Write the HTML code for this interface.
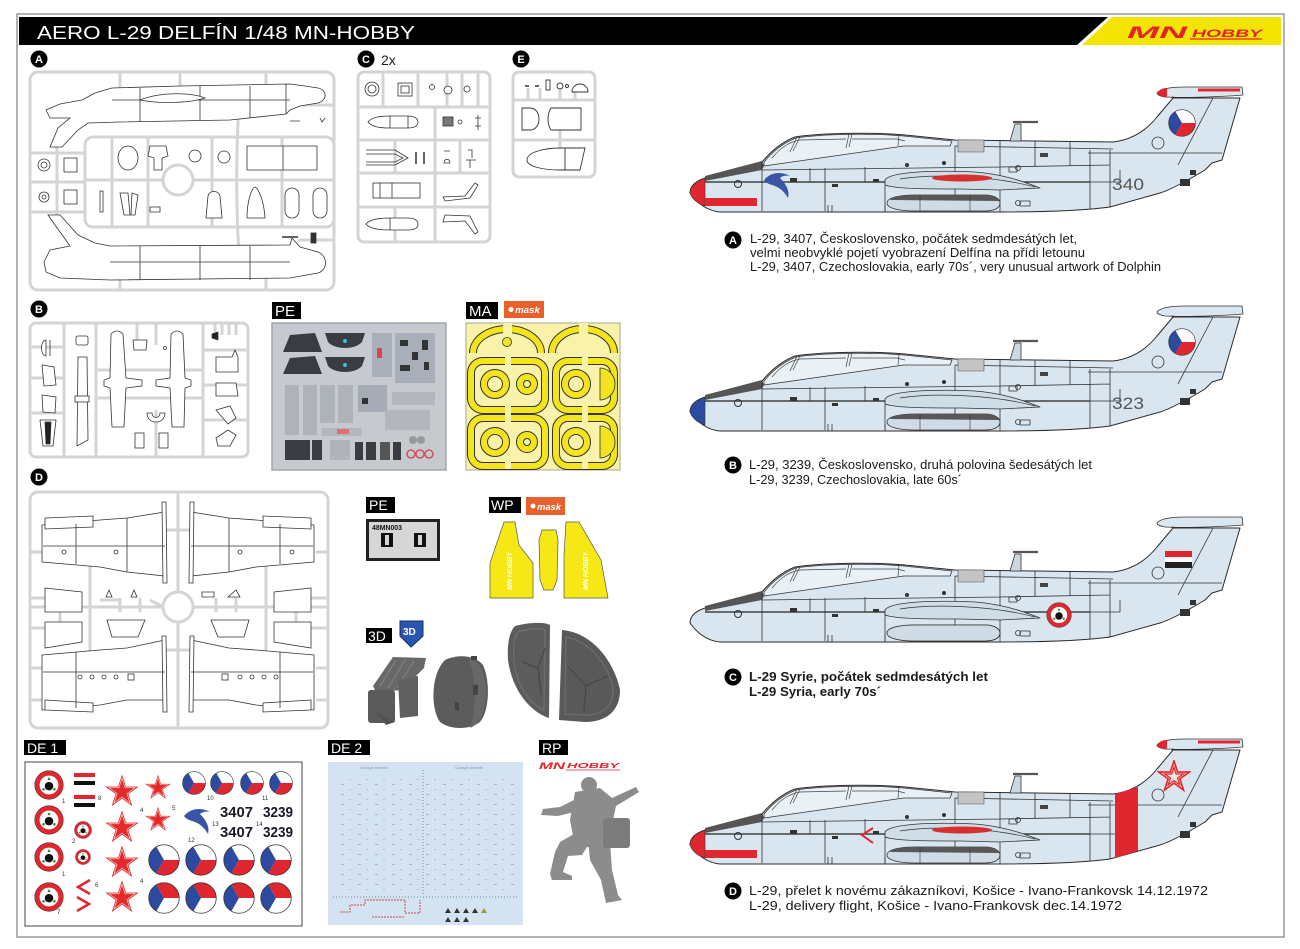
<!DOCTYPE html>
<html><head><meta charset="utf-8"><style>
html,body{margin:0;padding:0;background:#fff;}
svg{display:block;}
text{font-family:"Liberation Sans",Arial,sans-serif;}
</style></head><body>
<svg width="1300" height="949" viewBox="0 0 1300 949" xmlns="http://www.w3.org/2000/svg" xmlns:xlink="http://www.w3.org/1999/xlink">
<defs>
 <symbol id="cz" viewBox="-1.05 -1.05 2.1 2.1">
  <path d="M0,0 L-0.5,-0.866 A1,1 0 0,1 1,0 Z" fill="#fff"/>
  <path d="M0,0 L1,0 A1,1 0 0,1 -0.5,0.866 Z" fill="#e0262e"/>
  <path d="M0,0 L-0.5,0.866 A1,1 0 0,1 -0.5,-0.866 Z" fill="#2c4aa0"/>
  <circle r="1" fill="none" stroke="#333" stroke-width="0.05"/>
 </symbol>
 <symbol id="cz2" viewBox="-1.05 -1.05 2.1 2.1">
  <path d="M0,0 L-0.5,-0.866 A1,1 0 0,1 1,0 Z" fill="#e0262e"/>
  <path d="M0,0 L1,0 A1,1 0 0,1 -0.5,0.866 Z" fill="#fff"/>
  <path d="M0,0 L-0.5,0.866 A1,1 0 0,1 -0.5,-0.866 Z" fill="#2c4aa0"/>
  <circle r="1" fill="none" stroke="#333" stroke-width="0.05"/>
 </symbol>
 <symbol id="sy" viewBox="-1.05 -1.05 2.1 2.1">
  <circle r="1" fill="#e0262e" stroke="#444" stroke-width="0.04"/>
  <circle r="0.66" fill="#fff"/>
  <circle cy="0.08" r="0.3" fill="#111"/>
  <circle cy="-0.42" r="0.09" fill="#2a8a3a"/>
  <circle cx="-0.38" cy="0.3" r="0.09" fill="#2a8a3a"/>
  <circle cx="0.38" cy="0.3" r="0.09" fill="#2a8a3a"/>
 </symbol>
 <symbol id="st" viewBox="-1.05 -1.05 2.1 2.1">
  <polygon points="0,-1 0.2234,-0.3074 0.9511,-0.309 0.3614,0.1174 0.5878,0.809 0,0.38 -0.5878,0.809 -0.3614,0.1174 -0.9511,-0.309 -0.2234,-0.3074" fill="#f6d0d0" stroke="#e02828" stroke-width="0.05"/>
  <polygon points="0,-0.78 0.1743,-0.2398 0.7419,-0.241 0.2819,0.0916 0.4585,0.631 0,0.2964 -0.4585,0.631 -0.2819,0.0916 -0.7419,-0.241 -0.1743,-0.2398" fill="#e42a2a"/>
 </symbol>
 <symbol id="st2" viewBox="-1.05 -1.05 2.1 2.1">
  <polygon points="0,-1 0.2234,-0.3074 0.9511,-0.309 0.3614,0.1174 0.5878,0.809 0,0.38 -0.5878,0.809 -0.3614,0.1174 -0.9511,-0.309 -0.2234,-0.3074" fill="#f4e4e8" stroke="#e02828" stroke-width="0.1"/>
  <polygon points="0,-0.6 0.134,-0.184 0.571,-0.185 0.217,0.07 0.353,0.485 0,0.228 -0.353,0.485 -0.217,0.07 -0.571,-0.185 -0.134,-0.184" fill="none" stroke="#e02828" stroke-width="0.08"/>
 </symbol>
 <pattern id="sp" width="17" height="10" patternUnits="userSpaceOnUse">
  <rect x="1" y="4" width="3" height="1" fill="#98a6b6"/>
  <rect x="9" y="9" width="2" height="1" fill="#a8b4c2"/>
 </pattern>
 <g id="ac" stroke-linejoin="round">
  <path d="M1157,93 C1160,89 1170,87 1185,87 L1242,87 L1243,95 C1220,97 1180,98 1165,97 C1160,96 1157,95 1157,93 Z" fill="#dbe7f0" stroke="#333" stroke-width="0.8"/>
  <path d="M1172,97 L1176,100" stroke="#333" stroke-width="2"/>
  <path d="M690,193 C690,186 696,181 705,178 L762,162 C772,150 782,142 795,137 C820,133 870,132 905,135 L955,140 L1113,142 C1130,140 1145,132 1157,117 L1173,98 L1240,98 L1222,160 L1212,163 L1205,170 C1185,182 1170,190 1160,193 L1110,207 C1080,211 1040,212 1000,212 L720,212 C708,211 698,204 690,193 Z" fill="#d9e6ef" stroke="#2a2a2a" stroke-width="1"/>
  <path d="M764,162 C773,151 783,143 796,138 C821,134 870,133 904,136 L952,141 L950,146 L904,146 L764,166 Z" fill="#eaf1f6" stroke="#333" stroke-width="0.8"/>
  <path d="M790,152 L797,137 M793,151 L800,137 M846,148 L849,134 M849,147 L852,134 M898,146 L899,135 M772,158 C782,146 790,142 800,140 L846,139 M852,139 L897,139 L905,141" fill="none" stroke="#444" stroke-width="0.7"/>
  <path d="M705,176 L762,161 L764,166 L762,170 L705,181 Z" fill="#555"/>
  <path d="M705,182 L1090,182" stroke="#222" stroke-width="1.3"/>
  <path d="M762,170 L1000,167 L1110,165 M955,146 L1113,149 M1088,153 L1222,153 M762,162 L762,211 M825,168 L825,211 M865,167 L865,182 M885,182 L885,211 M955,146 L955,211 M1000,141 L1000,212 M1090,150 L1090,209 M1110,150 L1110,207 M1035,141 L1035,167 M1070,142 L1070,166 M1213,98 L1178,165 M810,168 L810,182 M1090,182 L1120,182 L1120,170" fill="none" stroke="#333" stroke-width="0.8"/>
  <circle cx="1158" cy="143" r="6" fill="none" stroke="#333" stroke-width="0.8"/>
  <circle cx="738" cy="184" r="3.5" fill="none" stroke="#333" stroke-width="1"/>
  <rect x="958" y="140" width="26" height="12" fill="#c4c4c4" stroke="#555" stroke-width="0.6"/>
  <path d="M1010,141 L1015,124 L1021,124 L1021,141 Z" fill="#ccd8e0" stroke="#333" stroke-width="0.8"/>
  <path d="M1013,122 L1038,122" stroke="#555" stroke-width="2.2"/>
  <path d="M885,180 C890,172 930,170 975,172 C1000,174 1020,180 1040,188 L1000,190 L960,189 C930,189 895,189 885,185 Z" fill="#cfdde7" stroke="#333" stroke-width="0.8"/>
  <path d="M900,179 C930,174 990,175 1035,187" fill="none" stroke="#333" stroke-width="0.7"/>
  <path d="M887,203 C887,198 898,195 915,195 L985,195 C996,195 1000,200 1000,203 C1000,207 996,211 985,211 L915,211 C898,211 887,208 887,203 Z" fill="#d0dce5" stroke="#333" stroke-width="0.8"/>
  <path d="M890,200 C894,196 905,195 915,195 L985,195 C994,195 998,198 999,201 Z" fill="#585858"/>
  <path d="M920,195 L920,211 M970,195 L970,211" stroke="#333" stroke-width="0.6"/>
  <rect x="790" y="178" width="7" height="4" fill="#333"/>
  <rect x="832" y="184" width="6" height="3" fill="#333"/>
  <rect x="873" y="179" width="6" height="3" fill="#333"/>
  <rect x="1040" y="153" width="8" height="4" fill="#444"/>
  <rect x="1009" y="167" width="8" height="5" fill="none" stroke="#333" stroke-width="0.8"/>
  <rect x="1020" y="201" width="10" height="5" fill="none" stroke="#333" stroke-width="0.8"/>
  <circle cx="1018" cy="203" r="2.5" fill="none" stroke="#333" stroke-width="0.8"/>
  <circle cx="1018" cy="168" r="2.5" fill="none" stroke="#333" stroke-width="0.8"/>
  <rect x="1180" y="179" width="10" height="7" fill="#333"/>
  <rect x="1190" y="170" width="6" height="5" fill="#333"/>
  <circle cx="907" cy="165" r="2" fill="#333"/>
  <circle cx="944" cy="163" r="2" fill="#333"/>
  <path d="M828,205 L828,212 M832,205 L832,212 M885,205 L885,212" stroke="#333" stroke-width="0.8"/>
 </g>
</defs>

<rect x="17" y="14" width="1267" height="923" fill="none" stroke="#9a9a9a" stroke-width="1.5"/>

<!-- header -->
<polygon points="19,17 1108,17 1077,45 19,45" fill="#000"/>
<polygon points="1112,17 1281,17 1281,45 1082,45" fill="#f4e500"/>
<text x="37" y="39" font-size="18" fill="#fff" textLength="378" lengthAdjust="spacingAndGlyphs">AERO L-29 DELFÍN 1/48 MN-HOBBY</text>
<text x="1127" y="38" font-size="17" font-weight="bold" font-style="italic" fill="#e3232b" textLength="60" lengthAdjust="spacingAndGlyphs">MN</text>
<text x="1192" y="37" font-size="11" font-weight="bold" font-style="italic" fill="#e3232b" textLength="70" lengthAdjust="spacingAndGlyphs">HOBBY</text>
<path d="M1190,39 L1262,39" stroke="#e3232b" stroke-width="1.2"/>

<!-- section letters -->
<g font-size="11" font-weight="bold" fill="#fff" text-anchor="middle">
 <circle cx="39" cy="59" r="8.5" fill="#000"/><text x="39" y="63">A</text>
 <circle cx="366" cy="59" r="8.5" fill="#000"/><text x="366" y="63">C</text>
 <circle cx="521" cy="59" r="8.5" fill="#000"/><text x="521" y="63">E</text>
 <circle cx="39" cy="309" r="8.5" fill="#000"/><text x="39" y="313">B</text>
 <circle cx="39" cy="477" r="8.5" fill="#000"/><text x="39" y="481">D</text>
</g>
<text x="381" y="65" font-size="14" fill="#222">2x</text>

<!-- SPRUE A -->
<g fill="none" stroke="#d4d4d4" stroke-width="3" stroke-linecap="round">
 <rect x="30" y="72" width="304" height="218" rx="8"/>
 <path d="M120,72 L120,86 M180,72 L180,86 M266,72 L266,84 M120,280 L120,290 M266,278 L266,290"/>
 <rect x="85" y="137" width="249" height="90" rx="8"/>
 <path d="M85,180 L163,180 M193,180 L334,180 M112,137 L112,227 M148,137 L148,227 M212,137 L212,227 M282,137 L282,227 M239,105 C236,150 236,210 239,252"/>
 <path d="M30,153 L85,153 M30,182 L85,182 M30,212 L85,212 M57,137 L57,227 M300,105 L334,105 M300,240 L334,240"/>
 <circle cx="178" cy="180" r="15" fill="#fff"/>
</g>
<g fill="#fff" stroke="#333" stroke-width="0.8">
 <path d="M46,110 L60,104 L82,100 L95,93 L112,88 L180,86 L290,84 L305,86 L318,88 C327,90 328,100 318,103 L300,106 L290,110 L286,114 L230,120 L120,122 L88,123 L78,130 L62,147 L50,147 L58,128 L70,118 L50,118 Z"/>
 <path d="M112,100 L290,100 M140,88 L140,122 M200,86 L200,120 M250,86 L250,118 M286,84 L286,114" fill="none"/>
 <path d="M140,100 C160,92 190,92 205,98 C190,103 160,104 140,100 Z"/>
 <path d="M48,215 L60,215 L78,235 L95,243 L110,246 L290,245 L292,238 L300,247 L318,252 C328,256 328,270 318,273 L290,278 L110,280 L60,278 L46,272 L44,262 L50,250 L70,246 Z"/>
 <path d="M110,262 L290,262 M140,246 L140,280 M200,246 L200,280 M250,246 L250,280" fill="none"/>
 <circle cx="44" cy="165" r="6"/><circle cx="44" cy="165" r="3"/>
 <circle cx="44" cy="197" r="5"/><circle cx="44" cy="197" r="2"/>
 <rect x="64" y="158" width="13" height="14"/><rect x="64" y="190" width="13" height="14"/>
 <ellipse cx="128" cy="158" rx="10" ry="12"/>
 <path d="M150,146 L166,146 L168,156 L162,158 L162,170 L154,170 L154,158 L148,156 Z"/>
 <circle cx="195" cy="156" r="6"/><circle cx="224" cy="157" r="6"/>
 <path d="M247,146 L317,146 L317,170 L247,170 Z M283,146 L283,170"/>
 <path d="M100,191 L103,191 L103,212 L100,212 Z M120,193 L128,193 L130,215 L124,215 Z M132,193 L138,195 L135,215 L131,215 Z M150,207 L160,207 L160,212 L150,212 Z"/>
 <path d="M206,218 L208,196 C210,190 218,190 220,196 L222,218 Z"/>
 <path d="M247,218 C247,200 252,188 255,187 C258,188 264,200 265,218 Z"/>
 <rect x="285" y="188" width="14" height="30" rx="7"/><rect x="313" y="188" width="14" height="30" rx="7"/>
 <path d="M290,121 L300,121 M320,118 L322,122 L325,118" fill="none"/>
 <rect x="311" y="233" width="5" height="10" fill="#333"/>
 <path d="M282,237 L298,237" fill="none" stroke-width="1.5"/>
</g>

<!-- SPRUE C -->
<g fill="none" stroke="#d4d4d4" stroke-width="3">
 <rect x="358" y="72" width="132" height="170" rx="6"/>
 <path d="M358,107 L490,107 M358,140 L490,140 M358,173 L490,173 M358,207 L490,207 M435,107 L435,242 M383,72 L383,107 M418,72 L418,107 M447,72 L447,107 M462,72 L462,107 M478,72 L478,107 M395,140 L395,173 M460,140 L460,173 M395,207 L395,242"/>
</g>
<g fill="#fff" stroke="#333" stroke-width="0.8">
 <circle cx="372" cy="89" r="7"/><circle cx="372" cy="89" r="4"/>
 <rect x="398" y="83" width="14" height="13"/><rect x="401" y="86" width="8" height="7"/>
 <circle cx="432" cy="87" r="2.5"/><circle cx="448" cy="90" r="4"/><circle cx="467" cy="89" r="3"/>
 <path d="M368,122 C372,117 380,116 390,116 L408,116 C415,116 418,119 418,122 C418,126 415,128 408,128 L390,128 C380,128 372,127 368,122 Z M390,116 L390,128 M408,116 L408,128"/>
 <rect x="443" y="117" width="10" height="9" fill="#777"/><circle cx="460" cy="122" r="2"/><path d="M478,115 L478,130 M475,118 L481,118 M475,126 L481,126" fill="none"/>
 <path d="M366,150 L395,150 L408,158 L395,165 L366,165 M366,154 L395,154 L403,158 L395,162 L366,162" fill="none"/>
 <path d="M416,152 L416,164 M424,152 L424,164" fill="none" stroke-width="1.5"/>
 <path d="M444,151 L450,151 M444,163 C444,158 450,158 450,163 Z M468,150 L472,150 L472,158 M466,160 L476,160 M470,160 L470,168" fill="none"/>
 <rect x="373" y="183" width="47" height="15"/><path d="M380,183 L380,198 M392,183 L392,198" fill="none"/>
 <path d="M443,197 L465,196 L475,183 L478,185 L470,198 L445,201 Z"/>
 <path d="M366,224 C370,219 380,218 390,218 L408,218 C415,218 418,221 418,224 C418,228 415,230 408,230 L390,230 C380,230 370,229 366,224 Z M390,218 L390,230"/>
 <path d="M443,222 L465,221 L475,234 L478,232 L470,216 L445,215 Z"/>
</g>

<!-- SPRUE E -->
<g fill="none" stroke="#d4d4d4" stroke-width="3">
 <rect x="513" y="72" width="82" height="105" rx="6"/>
 <path d="M513,100 L595,100 M513,140 L595,140 M528,88 L528,100 M540,88 L540,100 M560,90 L560,100 M575,92 L575,100 M560,130 L560,140 M560,140 L560,148"/>
</g>
<g fill="#fff" stroke="#333" stroke-width="0.9">
 <path d="M525,86 L529,86 M535,86 L539,86" fill="none" stroke-width="1.5"/>
 <rect x="546" y="80" width="4" height="10"/>
 <circle cx="560" cy="86" r="3"/><circle cx="567" cy="86" r="1.5"/>
 <path d="M572,92 A8,8 0 0,1 588,92 Z"/>
 <path d="M522,108 L530,108 C542,108 542,130 530,130 L522,130 Z"/>
 <path d="M551,108 L581,108 L581,130 L551,130 C547,124 547,114 551,108 Z"/>
 <path d="M527,160 C527,152 545,148 560,148 L585,148 L580,170 L560,170 C545,170 527,167 527,160 Z M565,148 L565,170"/>
</g>

<!-- SPRUE B -->
<g fill="none" stroke="#d4d4d4" stroke-width="3">
 <rect x="30" y="323" width="218" height="134" rx="6"/>
 <path d="M64,323 L64,457 M96,323 L96,457 M203,323 L203,457 M30,347 L64,347 M30,378 L64,378 M30,413 L64,413 M96,370 L203,370 M96,398 L203,398 M137,323 L137,340 M156,323 L156,345 M156,410 L156,457 M203,350 L248,350 M203,385 L248,385 M203,420 L248,420 M215,323 L215,335 M222,323 L222,335 M229,323 L229,335 M236,323 L236,335"/>
</g>
<g fill="#fff" stroke="#333" stroke-width="0.8">
 <path d="M46,340 C40,340 40,356 46,356 Z M50,340 L50,356"/>
 <path d="M42,365 L54,367 L56,385 L44,386 Z"/>
 <path d="M42,395 L56,397 L55,413 L43,412 Z"/>
 <path d="M40,420 L56,420 L53,446 L43,446 Z"/><path d="M45,422 L51,422 L50,444 L46,444 Z" fill="#222"/>
 <path d="M78,357 L87,357 L88,440 L77,446 Z"/><rect x="75" y="396" width="14" height="6"/>
 <rect x="76" y="336" width="12" height="9" rx="2"/>
 <path d="M111,334 Q117,328 123,334 L126,378 L142,380 L142,386 L126,388 L124,427 L112,427 L110,388 L104,386 L104,380 L110,378 Z"/>
 <path d="M171,334 Q177,328 183,334 L185,378 L191,380 L191,386 L185,388 L184,427 L172,427 L170,388 L156,386 L156,380 L170,378 Z"/>
 <path d="M133,340 L147,340 L146,350 L134,350 Z"/><circle cx="165" cy="348" r="1.5"/>
 <path d="M147,413 C147,425 165,425 165,413 L160,413 C160,419 152,419 152,413 Z"/>
 <rect x="135" y="433" width="9" height="15"/><rect x="159" y="433" width="9" height="15"/>
 <path d="M212,334 L218,332 L218,340 L212,338 Z" fill="#222"/>
 <path d="M216,357 L232,357 L235,350 L238,357 L238,372 L216,372 Z"/>
 <path d="M216,383 L236,383 L238,396 L216,396 Z"/>
 <path d="M216,410 L230,406 L236,418 L228,424 Z"/>
 <path d="M216,438 L228,430 L236,435 L230,446 L218,446 Z"/>
</g>

<!-- SPRUE D -->
<g fill="none" stroke="#d4d4d4" stroke-width="3">
 <rect x="30" y="492" width="298" height="236" rx="8"/>
 <path d="M178,492 L178,592 M178,622 L178,728 M30,607 L163,607 M193,607 L328,607 M30,552 L42,552 M30,598 L48,598 M30,628 L48,628 M30,668 L42,668 M30,700 L42,700 M316,552 L328,552 M310,598 L328,598 M310,628 L328,628 M316,668 L328,668 M316,700 L328,700 M90,560 L90,655 M266,560 L266,655 M100,600 L120,600 M150,600 L163,607 M120,598 L120,612 M140,598 L140,612 M236,598 L236,612 M216,598 L216,612 M60,612 L60,622 M296,612 L296,622 M166,530 L178,530 M190,530 L178,530 M166,650 L190,650"/>
 <circle cx="178" cy="607" r="15" fill="#fff"/>
</g>
<g fill="#fff" stroke="#333" stroke-width="0.8">
 <path d="M42,525 L100,520 L127,518 L165,512 L165,576 L127,572 L100,567 L42,562 Z"/>
 <path d="M45,518 L93,516 L93,527 L45,529 Z M162,502 L166,502 L167,583 L163,583 Z"/>
 <path d="M43,546 L165,546 M76,524 L76,564 M127,518 L127,572" fill="none"/>
 <circle cx="64" cy="552" r="2"/><circle cx="116" cy="552" r="2"/>
 <path d="M314,525 L256,520 L229,518 L191,512 L191,576 L229,572 L256,567 L314,562 Z"/>
 <path d="M311,518 L263,516 L263,527 L311,529 Z M194,502 L190,502 L189,583 L193,583 Z"/>
 <path d="M313,546 L191,546 M280,524 L280,564 M229,518 L229,572" fill="none"/>
 <circle cx="292" cy="552" r="2"/><circle cx="240" cy="552" r="2"/>
 <path d="M42,655 L100,650 L127,648 L165,640 L165,700 L127,700 L100,705 L42,710 Z"/>
 <path d="M162,636 L166,636 L167,712 L163,712 Z M45,700 L93,703 L93,712 L45,710 Z"/>
 <path d="M43,672 L165,672 M76,652 L76,708" fill="none"/>
 <circle cx="80" cy="677" r="2"/><circle cx="92" cy="677" r="2"/><circle cx="104" cy="677" r="2"/><circle cx="116" cy="677" r="2"/><rect x="128" y="674" width="6" height="6"/>
 <path d="M314,655 L256,650 L229,648 L191,640 L191,700 L229,700 L256,705 L314,710 Z"/>
 <path d="M194,636 L190,636 L189,712 L193,712 Z M311,700 L263,703 L263,712 L311,710 Z"/>
 <path d="M313,672 L191,672 M280,652 L280,708" fill="none"/>
 <circle cx="276" cy="677" r="2"/><circle cx="264" cy="677" r="2"/><circle cx="252" cy="677" r="2"/><circle cx="240" cy="677" r="2"/><rect x="222" y="674" width="6" height="6"/>
 <path d="M45,588 L82,592 L82,612 L45,612 Z M45,622 L82,622 L82,642 L45,648 Z"/>
 <path d="M311,588 L274,592 L274,612 L311,612 Z M311,622 L274,622 L274,642 L311,648 Z"/>
 <path d="M106,597 L109,590 L112,597 Z M131,597 L134,590 L137,597 Z"/>
 <path d="M202,597 L214,597 L214,592 L202,592 Z M228,597 L240,597 L236,590 Z"/>
 <path d="M107,620 L145,620 L138,637 L112,637 Z"/>
 <path d="M249,620 L211,620 L218,637 L244,637 Z"/>
</g>

<!-- PE panel -->
<rect x="272" y="302" width="29" height="17" fill="#000"/>
<text x="275" y="316" font-size="15" fill="#fff">PE</text>
<rect x="272" y="323" width="174" height="147" fill="#c6c9ce" stroke="#a2a5aa" stroke-width="1.5"/>
<g stroke="none">
 <path d="M283,352 L290,335 L315,333 L322,352 Z" fill="#3a3c42"/>
 <path d="M325,333 L365,333 L362,342 C355,350 335,350 328,342 Z" fill="#3a3c42"/>
 <path d="M283,374 L290,358 L315,356 L322,374 Z" fill="#3a3c42"/>
 <path d="M325,357 L365,357 L362,366 C355,374 335,374 328,366 Z" fill="#3a3c42"/>
 <circle cx="345" cy="341" r="2" fill="#3cc0e0"/><circle cx="345" cy="365" r="2" fill="#3cc0e0"/>
 <rect x="372" y="333" width="20" height="44" fill="#a9afb8"/>
 <rect x="377" y="348" width="5" height="10" fill="#e04050"/>
 <rect x="395" y="333" width="40" height="50" fill="#a9afb8"/>
 <rect x="400" y="340" width="8" height="6" fill="#333"/><rect x="412" y="352" width="6" height="8" fill="#333"/><rect x="400" y="365" width="10" height="6" fill="#333"/><rect x="422" y="340" width="6" height="10" fill="#333"/><rect x="424" y="362" width="5" height="8" fill="#333"/>
 <rect x="285" y="385" width="14" height="50" fill="#aeb3ba"/><rect x="303" y="385" width="14" height="50" fill="#aeb3ba"/>
 <rect x="320" y="385" width="15" height="38" fill="#aeb3ba"/><rect x="338" y="385" width="15" height="38" fill="#aeb3ba"/>
 <rect x="358" y="385" width="17" height="27" fill="#a5acb5"/><rect x="375" y="385" width="12" height="27" fill="#a5acb5"/>
 <rect x="362" y="398" width="6" height="6" fill="#333"/>
 <rect x="392" y="392" width="43" height="13" fill="#b3b7bd"/>
 <rect x="385" y="410" width="45" height="20" fill="#b3b7bd"/>
 <rect x="322" y="428" width="40" height="8" fill="#b3b7bd"/>
 <rect x="337" y="429" width="12" height="5" fill="#e07070"/>
 <rect x="285" y="440" width="25" height="20" fill="#3a3c42"/>
 <rect x="312" y="440" width="10" height="20" fill="#3a3c42"/>
 <rect x="330" y="440" width="20" height="20" fill="#b0b4ba"/>
 <rect x="355" y="442" width="8" height="18" fill="#3a3c42"/><rect x="366" y="442" width="10" height="18" fill="#3a3c42"/><rect x="380" y="442" width="10" height="18" fill="#555"/><rect x="393" y="442" width="8" height="18" fill="#3a3c42"/>
 <circle cx="411" cy="454" r="4" fill="none" stroke="#d05060" stroke-width="1.5"/><circle cx="420" cy="454" r="4" fill="none" stroke="#d05060" stroke-width="1.5"/><circle cx="429" cy="454" r="4" fill="none" stroke="#d05060" stroke-width="1.5"/>
 <circle cx="413" cy="440" r="4" fill="#999"/><circle cx="421" cy="440" r="4" fill="#999"/>
</g>

<!-- MA panel -->
<rect x="466" y="302" width="32" height="17" fill="#000"/>
<text x="469" y="316" font-size="15" fill="#fff">MA</text>
<rect x="504" y="301" width="40" height="17" fill="#e8602c"/>
<circle cx="511" cy="309.5" r="2.5" fill="#fff"/>
<text x="515" y="313" font-size="9" font-weight="bold" font-style="italic" fill="#fff" textLength="25" lengthAdjust="spacingAndGlyphs">mask</text>
<rect x="466" y="323" width="154" height="147" fill="#f8f2aa" stroke="#a8a590" stroke-width="1"/>
<g fill="none">
 <g stroke="#333" stroke-width="8">
  <path d="M473,353 A34,24 0 0,1 541,353"/>
  <path d="M552,353 A31,24 0 0,1 614,353"/>
  <rect x="471" y="361" width="74" height="49" rx="12"/>
  <rect x="556" y="361" width="58" height="49" rx="12"/>
  <rect x="471" y="418" width="74" height="48" rx="12"/>
  <rect x="556" y="418" width="58" height="48" rx="12"/>
  <circle cx="495" cy="384" r="11"/><circle cx="527" cy="384" r="7"/><circle cx="576" cy="384" r="11"/>
  <circle cx="495" cy="442" r="11"/><circle cx="527" cy="442" r="7"/><circle cx="576" cy="442" r="11"/>
 </g>
 <g stroke="#f4e41c" stroke-width="6">
  <path d="M473,353 A34,24 0 0,1 541,353"/>
  <path d="M552,353 A31,24 0 0,1 614,353"/>
  <rect x="471" y="361" width="74" height="49" rx="12"/>
  <rect x="556" y="361" width="58" height="49" rx="12"/>
  <rect x="471" y="418" width="74" height="48" rx="12"/>
  <rect x="556" y="418" width="58" height="48" rx="12"/>
  <circle cx="495" cy="384" r="11"/><circle cx="527" cy="384" r="7"/><circle cx="576" cy="384" r="11"/>
  <circle cx="495" cy="442" r="11"/><circle cx="527" cy="442" r="7"/><circle cx="576" cy="442" r="11"/>
 </g>
</g>
<g fill="#f8f2aa">
 <rect x="503" y="323" width="9" height="13"/><rect x="579" y="323" width="9" height="12"/>
 <rect x="505" y="355" width="6" height="10"/><rect x="505" y="406" width="6" height="16"/><rect x="505" y="462" width="6" height="7"/>
 <rect x="582" y="355" width="6" height="10"/><rect x="582" y="406" width="6" height="16"/><rect x="582" y="462" width="6" height="7"/>
</g>
<circle cx="507" cy="342" r="4.5" fill="#f4e41c" stroke="#333" stroke-width="0.8"/>
<path d="M600,368 A15,16 0 0,1 600,400 Z M600,426 A15,16 0 0,1 600,458 Z" fill="#f4e41c" stroke="#333" stroke-width="0.8"/>

<!-- PE small -->
<rect x="366" y="497" width="29" height="16" fill="#000"/>
<text x="369" y="510" font-size="14" fill="#fff">PE</text>
<rect x="366" y="519" width="74" height="42" fill="#222"/>
<rect x="369" y="522" width="68" height="36" fill="#d6d6d6"/>
<text x="372" y="530" font-size="7.5" font-weight="bold" fill="#111" textLength="30" lengthAdjust="spacingAndGlyphs">48MN003</text>
<path d="M381,533 L393,533 L393,547 L381,547 Z M414,533 L426,533 L426,547 L414,547 Z" fill="#111"/>
<path d="M385,535 L389,535 L389,545 L385,545 Z M418,535 L422,535 L422,545 L418,545 Z" fill="#d6d6d6"/>

<!-- WP -->
<rect x="489" y="497" width="32" height="16" fill="#000"/>
<text x="491" y="510" font-size="14" fill="#fff">WP</text>
<rect x="526" y="497" width="39" height="18" fill="#e8602c"/>
<circle cx="533" cy="506" r="2.5" fill="#fff"/>
<text x="537" y="510" font-size="9" font-weight="bold" font-style="italic" fill="#fff" textLength="24" lengthAdjust="spacingAndGlyphs">mask</text>
<g fill="#f6e814" stroke="#555" stroke-width="0.7">
 <path d="M504,522 L515,522 L519,545 L533,563 L533,598 L490,598 L490,563 Z"/>
 <path d="M542,530 L556,530 L558,540 L557,580 L553,590 L544,590 L540,580 L539,540 Z"/>
 <path d="M566,522 L579,522 L601,560 L608,598 L564,598 L564,555 Z"/>
</g>
<g fill="#fff" font-size="7" font-weight="bold" font-style="italic">
 <text x="0" y="0" transform="translate(512,590) rotate(-90)">MN HOBBY</text>
 <text x="0" y="0" transform="translate(588,590) rotate(-90)">MN HOBBY</text>
</g>

<!-- 3D -->
<rect x="366" y="628" width="26" height="15" fill="#000"/>
<text x="368" y="641" font-size="14" fill="#fff">3D</text>
<path d="M400,621 L423,621 L423,636 L411,647 L400,636 Z" fill="#2a55b0" stroke="#15306a" stroke-width="1"/>
<text x="403" y="635" font-size="10" font-weight="bold" fill="#fff">3D</text>
<!-- seat -->
<path d="M393,657 L426,658 L424,668 L402,690 L376,692 L373,686 Z" fill="#686868"/>
<path d="M396,660 L380,686 M405,660 L388,688 M414,661 L397,688" stroke="#7c7c7c" stroke-width="1.5"/>
<rect x="368" y="690" width="27" height="33" rx="3" fill="#5a5a5a"/>
<path d="M398,680 L418,676 L418,716 L400,718 Z" fill="#606060"/>
<path d="M376,712 L386,725 L395,722" fill="#505050"/>
<!-- cylinder -->
<path d="M445,660 C458,654 475,655 483,665 C490,680 490,710 480,722 C470,730 450,730 440,722 C431,710 430,675 445,660 Z" fill="#5c5c5c"/>
<path d="M468,658 C478,660 484,668 486,690 C486,712 480,724 470,728 C476,712 477,678 468,658 Z" fill="#686868"/>
<rect x="473" y="685" width="5" height="10" fill="#444"/>
<rect x="455" y="702" width="4" height="8" fill="#444"/>
<rect x="471" y="656" width="6" height="4" fill="#444"/>
<!-- half shells -->
<path d="M515,626 C530,622 545,622 550,625 L549,718 C530,712 512,690 508,660 C507,645 509,632 515,626 Z" fill="#5c5c5c"/>
<path d="M518,632 C530,628 542,628 545,630 L544,710 C530,704 516,686 514,660 C513,647 514,637 518,632 Z" fill="none" stroke="#6c6c6c" stroke-width="1.5"/>
<path d="M522,662 L538,668 L545,648 M538,668 L541,695" fill="none" stroke="#474747" stroke-width="1.3"/>
<path d="M562,630 C595,633 615,665 620,690 C620,712 605,722 585,722 L559,720 Z" fill="#595959"/>
<path d="M566,637 C592,642 610,668 613,690 C613,707 602,715 585,715 L565,714 Z" fill="none" stroke="#6a6a6a" stroke-width="1.5"/>
<path d="M568,666 L586,686 L608,676 M586,686 L584,712" fill="none" stroke="#474747" stroke-width="1.3"/>

<!-- DE 1 -->
<rect x="24" y="740" width="42" height="15" fill="#000"/>
<text x="27" y="753" font-size="14" fill="#fff">DE 1</text>
<rect x="25" y="762" width="277" height="164" fill="#fff" stroke="#444" stroke-width="1"/>
<use xlink:href="#sy" x="34" y="770" width="30" height="30"/>
<use xlink:href="#sy" x="34" y="805" width="30" height="30"/>
<use xlink:href="#sy" x="34" y="842" width="30" height="30"/>
<use xlink:href="#sy" x="34" y="882" width="30" height="30"/>
<use xlink:href="#sy" x="74" y="821" width="18" height="18"/>
<use xlink:href="#sy" x="75" y="849" width="16" height="16"/>
<g>
 <rect x="74" y="773" width="21" height="4" fill="#e0262e"/><rect x="74" y="777" width="21" height="4" fill="#fff"/><rect x="74" y="781" width="21" height="4" fill="#111"/>
 <rect x="74" y="795" width="21" height="4" fill="#e0262e"/><rect x="74" y="799" width="21" height="4" fill="#fff"/><rect x="74" y="803" width="21" height="4" fill="#111"/>
</g>
<path d="M90,880 L78,887 L90,894 M77,897 L89,904 L77,911" fill="none" stroke="#e0262e" stroke-width="2.5"/>
<use xlink:href="#st" x="105" y="775" width="34" height="34"/>
<use xlink:href="#st" x="105" y="811" width="34" height="34"/>
<use xlink:href="#st" x="105" y="846" width="34" height="34"/>
<use xlink:href="#st" x="105" y="881" width="34" height="34"/>
<use xlink:href="#st" x="145" y="775" width="26" height="26"/>
<use xlink:href="#st" x="145" y="807" width="26" height="26"/>
<use xlink:href="#cz" x="182" y="771" width="24" height="24"/>
<use xlink:href="#cz" x="210" y="771" width="24" height="24"/>
<use xlink:href="#cz" x="240" y="771" width="24" height="24"/>
<use xlink:href="#cz" x="269" y="771" width="24" height="24"/>
<path d="M184,816 C190,808 202,807 210,812 C206,811 202,812 200,814 C206,820 210,827 208,834 C204,827 199,823 192,821 C189,820 186,819 184,816 Z" fill="#3a55a5"/>
<g font-weight="bold" fill="#1a1a2a" font-size="15">
 <text x="220" y="817" textLength="33" lengthAdjust="spacingAndGlyphs">3407</text>
 <text x="263" y="817" textLength="30" lengthAdjust="spacingAndGlyphs">3239</text>
 <text x="220" y="837" textLength="33" lengthAdjust="spacingAndGlyphs">3407</text>
 <text x="263" y="837" textLength="30" lengthAdjust="spacingAndGlyphs">3239</text>
</g>
<g font-size="6" fill="#333">
 <text x="62" y="803">1</text><text x="72" y="843">2</text><text x="62" y="876">1</text><text x="57" y="914">7</text>
 <text x="98" y="800">8</text><text x="140" y="812">4</text><text x="95" y="887">6</text><text x="140" y="883">4</text>
 <text x="172" y="810">5</text><text x="207" y="800">10</text><text x="262" y="800">11</text><text x="188" y="842">12</text><text x="212" y="826">13</text><text x="256" y="826">14</text>
</g>
<use xlink:href="#cz" x="148" y="844" width="32" height="32"/>
<use xlink:href="#cz" x="185" y="844" width="32" height="32"/>
<use xlink:href="#cz" x="223" y="844" width="32" height="32"/>
<use xlink:href="#cz" x="260" y="844" width="32" height="32"/>
<use xlink:href="#cz2" x="148" y="882" width="32" height="32"/>
<use xlink:href="#cz2" x="185" y="882" width="32" height="32"/>
<use xlink:href="#cz2" x="223" y="882" width="32" height="32"/>
<use xlink:href="#cz2" x="260" y="882" width="32" height="32"/>

<!-- DE 2 -->
<rect x="328" y="740" width="42" height="15" fill="#000"/>
<text x="331" y="753" font-size="14" fill="#fff">DE 2</text>
<rect x="328" y="762" width="195" height="163" fill="#d3e3f1"/>
<rect x="334" y="778" width="183" height="115" fill="url(#sp)" opacity="0.75"/>
<path d="M423,770 L423,895" stroke="#7a8898" stroke-width="1" stroke-dasharray="1 2"/>
<path d="M333,897 L518,897" stroke="#7a8898" stroke-width="1" stroke-dasharray="1 2"/>
<path d="M340,912 L350,912 L350,905 L365,905 L365,900 L405,900 L405,913 L420,913 L420,900 M372,917 L405,917" fill="none" stroke="#d04848" stroke-width="1" stroke-dasharray="2 1"/>
<g fill="#333">
 <path d="M445,913 L448,908 L451,913 Z M454,913 L457,908 L460,913 Z M463,913 L466,908 L469,913 Z M472,913 L475,908 L478,913 Z"/>
 <path d="M445,922 L448,917 L451,922 Z M454,922 L457,917 L460,922 Z M463,922 L466,917 L469,922 Z"/>
 <path d="M481,913 L484,908 L487,913 Z" fill="#9a9a30"/>
</g>
<g fill="#8a98a8" font-size="4"><text x="360" y="769">Cockpit stencils</text><text x="455" y="769">Cockpit stencils</text></g>

<!-- RP -->
<rect x="539" y="740" width="29" height="15" fill="#000"/>
<text x="542" y="753" font-size="14" fill="#fff">RP</text>
<text x="539" y="769" font-size="9" font-weight="bold" font-style="italic" fill="#e3232b" textLength="26" lengthAdjust="spacingAndGlyphs">MN</text>
<text x="567" y="768" font-size="7" font-weight="bold" font-style="italic" fill="#e3232b" textLength="52" lengthAdjust="spacingAndGlyphs">HOBBY</text>
<path d="M566,770 L620,770" stroke="#e3232b" stroke-width="0.8"/>
<g fill="#8c8c8c">
 <circle cx="589" cy="785" r="8"/>
 <path d="M575,792 L600,788 L612,798 L636,787 L639,792 L616,806 L613,820 L612,845 L598,848 L575,846 L570,820 Z"/>
 <path d="M574,800 L560,807 L543,809 L541,815 L558,816 L574,812 Z"/>
 <path d="M574,834 L590,842 L582,855 L568,856 L563,872 L572,876 L572,880 L552,880 L550,874 L555,852 L560,842 Z"/>
 <path d="M588,840 L610,842 L612,870 L618,895 L622,900 L606,903 L601,880 L590,860 Z"/>
 <rect x="603" y="818" width="27" height="30" rx="3" fill="#7c7c7c"/>
</g>

<!-- AIRCRAFT -->
<use xlink:href="#ac"/>
<use xlink:href="#ac" transform="translate(0,219)"/>
<use xlink:href="#ac" transform="translate(0,430)"/>
<use xlink:href="#ac" transform="translate(0,652)"/>

<!-- A markings -->
<g>
 <path d="M690,193 C690,186 697,181 705,178 L705,206 C698,204 692,199 690,193 Z" fill="#e0262e" stroke="#333" stroke-width="0.6"/>
 <rect x="705" y="198" width="52" height="8" fill="#e0262e"/>
 <path d="M1157,93 C1160,89 1163,88 1167,88 L1167,97 C1162,97 1157,95 1157,93 Z" fill="#e0262e"/>
 <rect x="1198" y="88.5" width="42" height="3" fill="#e0262e"/>
 <ellipse cx="962" cy="178" rx="30" ry="3.5" fill="#d83030"/>
 <use xlink:href="#cz" x="1168" y="109" width="28" height="28"/>
 <path d="M764,180 C770,172 782,171 790,176 C786,175 782,176 780,178 C786,184 790,191 788,198 C784,191 779,187 772,185 C769,184 766,183 764,180 Z" fill="#3a55a5"/>
 <text x="1112" y="190" font-size="17" fill="#555" textLength="32" lengthAdjust="spacingAndGlyphs">340</text>
</g>
<!-- B markings -->
<g transform="translate(0,219)">
 <path d="M690,193 C690,186 697,181 705,178 L705,206 C698,204 692,199 690,193 Z" fill="#2c4aa0" stroke="#333" stroke-width="0.6"/>
 <use xlink:href="#cz" x="1168" y="109" width="28" height="28"/>
 <text x="1112" y="190" font-size="17" fill="#555" textLength="32" lengthAdjust="spacingAndGlyphs">323</text>
</g>
<!-- C markings -->
<g transform="translate(0,430)">
 <path d="M887,203 C887,198 898,195 915,195 L985,195 C996,195 1000,200 1000,203 C1000,207 996,211 985,211 L915,211 C898,211 887,208 887,203 Z" fill="#d0dce5" stroke="#333" stroke-width="0.8"/>
 <use xlink:href="#sy" x="1046" y="172" width="26" height="26"/>
 <rect x="1165" y="121" width="27" height="6" fill="#e0262e"/><rect x="1165" y="127" width="27" height="5" fill="#fff"/><rect x="1165" y="132" width="27" height="6" fill="#222"/>
</g>
<!-- D markings -->
<g transform="translate(0,652)">
 <path d="M1115,142 L1138,135 L1138,199 L1115,206 Z" fill="#e0262e"/>
 <path d="M690,193 C690,186 697,181 705,178 L705,206 C698,204 692,199 690,193 Z" fill="#e0262e" stroke="#333" stroke-width="0.6"/>
 <rect x="705" y="198" width="52" height="8" fill="#e0262e"/>
 <path d="M1157,93 C1160,89 1163,88 1167,88 L1167,97 C1162,97 1157,95 1157,93 Z" fill="#e0262e"/>
 <rect x="1198" y="88.5" width="42" height="3" fill="#e0262e"/>
 <ellipse cx="962" cy="178" rx="30" ry="3.5" fill="#d83030"/>
 <use xlink:href="#st2" x="1157" y="108" width="34" height="34"/>
 <path d="M873,176 L862,183 L873,191" fill="none" stroke="#e0262e" stroke-width="2"/>
</g>

<!-- CAPTIONS -->
<g font-size="12.5" fill="#1a1a1a">
 <circle cx="733" cy="240" r="8.5" fill="#000"/><text x="733" y="244" font-size="11" font-weight="bold" fill="#fff" text-anchor="middle">A</text>
 <text x="750" y="243" textLength="327" lengthAdjust="spacingAndGlyphs">L-29, 3407, Československo, počátek sedmdesátých let,</text>
 <text x="750" y="257" textLength="335" lengthAdjust="spacingAndGlyphs">velmi neobvyklé pojetí vyobrazení Delfína na přídi letounu</text>
 <text x="750" y="271" textLength="411" lengthAdjust="spacingAndGlyphs">L-29, 3407, Czechoslovakia, early 70s´, very unusual artwork of Dolphin</text>

 <circle cx="733" cy="465" r="8.5" fill="#000"/><text x="733" y="469" font-size="11" font-weight="bold" fill="#fff" text-anchor="middle">B</text>
 <text x="749" y="469" textLength="343" lengthAdjust="spacingAndGlyphs">L-29, 3239, Československo, druhá polovina šedesátých let</text>
 <text x="749" y="484" textLength="213" lengthAdjust="spacingAndGlyphs">L-29, 3239, Czechoslovakia, late 60s´</text>

 <circle cx="733" cy="677" r="8.5" fill="#000"/><text x="733" y="681" font-size="11" font-weight="bold" fill="#fff" text-anchor="middle">C</text>
 <text x="749" y="681" font-weight="bold" textLength="239" lengthAdjust="spacingAndGlyphs">L-29 Syrie, počátek sedmdesátých let</text>
 <text x="749" y="696" font-weight="bold" textLength="132" lengthAdjust="spacingAndGlyphs">L-29 Syria, early 70s´</text>

 <circle cx="733" cy="891" r="8.5" fill="#000"/><text x="733" y="895" font-size="11" font-weight="bold" fill="#fff" text-anchor="middle">D</text>
 <text x="749" y="895" textLength="459" lengthAdjust="spacingAndGlyphs">L-29, přelet k novému zákazníkovi, Košice - Ivano-Frankovsk 14.12.1972</text>
 <text x="749" y="910" textLength="373" lengthAdjust="spacingAndGlyphs">L-29, delivery flight, Košice - Ivano-Frankovsk dec.14.1972</text>
</g>
</svg>
</body></html>
